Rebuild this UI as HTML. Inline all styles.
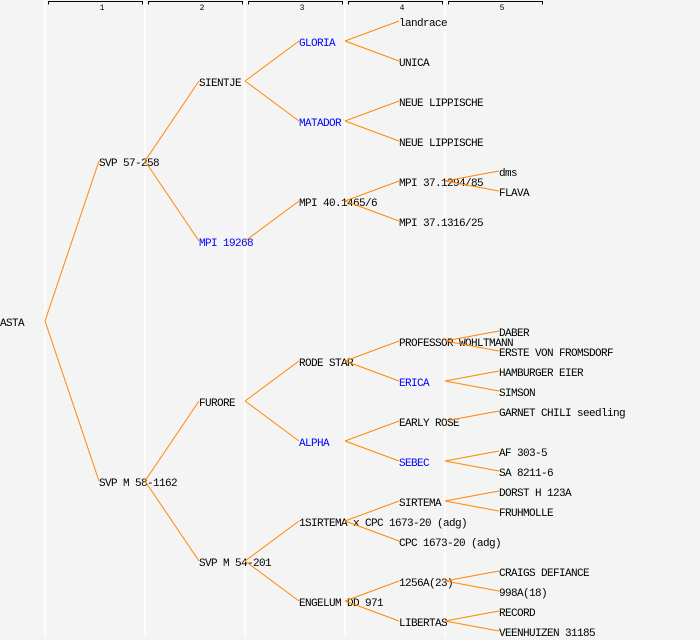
<!DOCTYPE html>
<html><head><meta charset="utf-8"><style>
html,body{margin:0;padding:0;background:#f4f4f4;}
svg{display:block;}
text{font-family:"Liberation Mono","DejaVu Sans Mono",monospace;font-size:11px;letter-spacing:-0.6px;fill:#000;}
text.b{fill:#0000ff;}
text.h{font-size:8px;letter-spacing:0;}
</style></head><body>
<svg width="700" height="640" viewBox="0 0 700 640" xmlns="http://www.w3.org/2000/svg">
<rect x="0" y="0" width="700" height="640" fill="#f4f4f4"/>
<g stroke="#ffffff" stroke-width="1.5">
<line x1="45" y1="0" x2="45" y2="637"/>
<line x1="145" y1="0" x2="145" y2="637"/>
<line x1="245" y1="0" x2="245" y2="637"/>
<line x1="345" y1="0" x2="345" y2="637"/>
<line x1="445" y1="0" x2="445" y2="637"/>
</g>
<g stroke="#000" stroke-width="1" fill="none">
<path d="M48.5 4.5V1.5H142.5V4.5"/>
<path d="M148.5 4.5V1.5H242.5V4.5"/>
<path d="M248.5 4.5V1.5H342.5V4.5"/>
<path d="M348.5 4.5V1.5H442.5V4.5"/>
<path d="M448.5 4.5V1.5H542.5V4.5"/>
</g>
<text class="h" x="102" y="10" text-anchor="middle">1</text>
<text class="h" x="202" y="10" text-anchor="middle">2</text>
<text class="h" x="302" y="10" text-anchor="middle">3</text>
<text class="h" x="402" y="10" text-anchor="middle">4</text>
<text class="h" x="502" y="10" text-anchor="middle">5</text>

<text x="0" y="326">ASTA</text>
<text x="99" y="166">SVP 57-258</text>
<text x="99" y="486">SVP M 58-1162</text>
<text x="199" y="86">SIENTJE</text>
<text class="b" x="199" y="246">MPI 19268</text>
<text x="199" y="406">FURORE</text>
<text x="199" y="566">SVP M 54-201</text>
<text class="b" x="299" y="46">GLORIA</text>
<text class="b" x="299" y="126">MATADOR</text>
<text x="299" y="206">MPI 40.1465/6</text>
<text x="299" y="366">RODE STAR</text>
<text class="b" x="299" y="446">ALPHA</text>
<text x="299" y="526">1SIRTEMA x CPC 1673-20 (adg)</text>
<text x="299" y="606">ENGELUM DD 971</text>
<text x="399" y="26">landrace</text>
<text x="399" y="66">UNICA</text>
<text x="399" y="106">NEUE LIPPISCHE</text>
<text x="399" y="146">NEUE LIPPISCHE</text>
<text x="399" y="186">MPI 37.1294/85</text>
<text x="399" y="226">MPI 37.1316/25</text>
<text x="399" y="346">PROFESSOR WOHLTMANN</text>
<text class="b" x="399" y="386">ERICA</text>
<text x="399" y="426">EARLY ROSE</text>
<text class="b" x="399" y="466">SEBEC</text>
<text x="399" y="506">SIRTEMA</text>
<text x="399" y="546">CPC 1673-20 (adg)</text>
<text x="399" y="586">1256A(23)</text>
<text x="399" y="626">LIBERTAS</text>
<text x="499" y="176">dms</text>
<text x="499" y="196">FLAVA</text>
<text x="499" y="336">DABER</text>
<text x="499" y="356">ERSTE VON FROMSDORF</text>
<text x="499" y="376">HAMBURGER EIER</text>
<text x="499" y="396">SIMSON</text>
<text x="499" y="416">GARNET CHILI seedling</text>
<text x="499" y="456">AF 303-5</text>
<text x="499" y="476">SA 8211-6</text>
<text x="499" y="496">DORST H 123A</text>
<text x="499" y="516">FRUHMOLLE</text>
<text x="499" y="576">CRAIGS DEFIANCE</text>
<text x="499" y="596">998A(18)</text>
<text x="499" y="616">RECORD</text>
<text x="499" y="636">VEENHUIZEN 31185</text>

<g stroke="#ff8800" stroke-width="1" fill="none">
<path d="M45 321L99 161M45 321L99 481"/>
<path d="M145 161L199 81M145 161L199 241M145 481L199 401M145 481L199 561"/>
<path d="M245 81L299 41M245 81L299 121M245 241L299 201M245 401L299 361M245 401L299 441M245 561L299 521M245 561L299 601"/>
<path d="M345 41L399 21M345 41L399 61M345 121L399 101M345 121L399 141M345 201L399 181M345 201L399 221M345 361L399 341M345 361L399 381M345 441L399 421M345 441L399 461M345 521L399 501M345 521L399 541M345 601L399 581M345 601L399 621"/>
<path d="M445 181L499 171M445 181L499 191M445 341L499 331M445 341L499 351M445 381L499 371M445 381L499 391M445 421L499 411M445 461L499 451M445 461L499 471M445 501L499 491M445 501L499 511M445 581L499 571M445 581L499 591M445 621L499 611M445 621L499 631"/>
</g>
</svg>
</body></html>
